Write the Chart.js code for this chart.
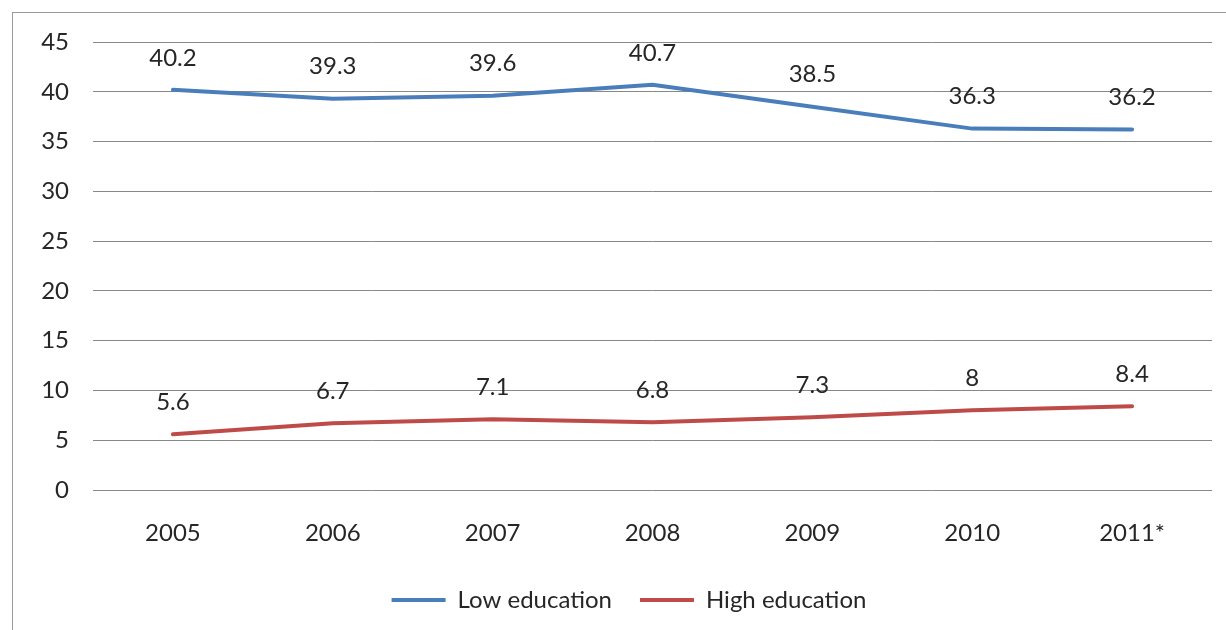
<!DOCTYPE html>
<html>
<head>
<meta charset="utf-8">
<script src="https://cdn.jsdelivr.net/npm/chart.js@4"></script>
<style>
    body { margin: 0; background: #fff; }
    #wrap { position: relative; width: 1226px; height: 630px; }
    #frame {
        position: absolute; left: 12px; top: 12px; right: 0; bottom: 0;
        border-left: 1px solid #9a9a9a; border-top: 1px solid #9a9a9a;
        pointer-events: none;
    }
</style>
</head>
<body>
<div id="wrap">
    <canvas id="grafico" width="1226" height="630"></canvas>
    <div id="frame"></div>
</div>
<script>
const anos = ["2005", "2006", "2007", "2008", "2009", "2010", "2011*"];
const baixaEducacao = [40.2, 39.3, 39.6, 40.7, 38.5, 36.3, 36.2];
const altaEducacao = [5.6, 6.7, 7.1, 6.8, 7.3, 8, 8.4];
const ticksY = [0, 5, 10, 15, 20, 25, 30, 35, 40, 45];

const fonte = "Lato";
const corTexto = "#262626";

// rotulos de valor acima de cada ponto
const rotulos = {
    id: "rotulos",
    afterDatasetsDraw(chart) {
        const ctx = chart.ctx;
        ctx.save();
        ctx.font = "24px " + fonte;
        ctx.fillStyle = corTexto;
        ctx.textAlign = "center";
        ctx.textBaseline = "middle";
        chart.data.datasets.forEach((ds, i) => {
            chart.getDatasetMeta(i).data.forEach((pt, j) => {
                ctx.fillText(String(ds.data[j]), pt.x, pt.y - 32);
            });
        });
        ctx.restore();
    }
};

const ctx = document.getElementById("grafico");

new Chart(ctx, {
    type: "line",
    data: {
        labels: anos,
        datasets: [{
            label: "Low education",
            data: baixaEducacao,
            borderColor: "#4a7ebb",
            backgroundColor: "#4a7ebb",
            borderWidth: 4,
            borderCapStyle: "round",
            pointRadius: 0,
            tension: 0
        }, {
            label: "High education",
            data: altaEducacao,
            borderColor: "#be4b48",
            backgroundColor: "#be4b48",
            borderWidth: 4,
            borderCapStyle: "round",
            pointRadius: 0,
            tension: 0
        }]
    },
    options: {
        responsive: false,
        animation: false,
        // padding direita negativa + eixo vazio a direita: centraliza a legenda como no original
        layout: { padding: { top: 42, right: -32, left: 0, bottom: 8 } },
        plugins: {
            tooltip: { enabled: false },
            legend: {
                position: "bottom",
                labels: {
                    usePointStyle: true,
                    pointStyle: "line",
                    pointStyleWidth: 54,
                    color: corTexto,
                    font: { family: fonte, size: 24 },
                    padding: 28
                }
            }
        },
        scales: {
            x: {
                offset: true,
                grid: { display: false, drawTicks: false },
                border: { display: false },
                ticks: { color: corTexto, font: { family: fonte, size: 24 }, padding: 29 },
                afterFit(scale) { scale.height = 70; }
            },
            y: {
                min: 0,
                max: 45,
                afterBuildTicks(scale) { scale.ticks = ticksY.map(v => ({ value: v })); },
                grid: { color: "#888888", lineWidth: 1, drawTicks: false },
                border: { display: false },
                ticks: { color: corTexto, font: { family: fonte, size: 24 }, padding: 24 },
                afterFit(scale) { scale.width = 93; }
            },
            vazio: {
                type: "linear",
                position: "right",
                display: true,
                grid: { display: false, drawTicks: false },
                border: { display: false },
                ticks: { display: false },
                afterFit(scale) { scale.width = 46; }
            }
        }
    },
    plugins: [rotulos]
});
</script>
</body>
</html>
